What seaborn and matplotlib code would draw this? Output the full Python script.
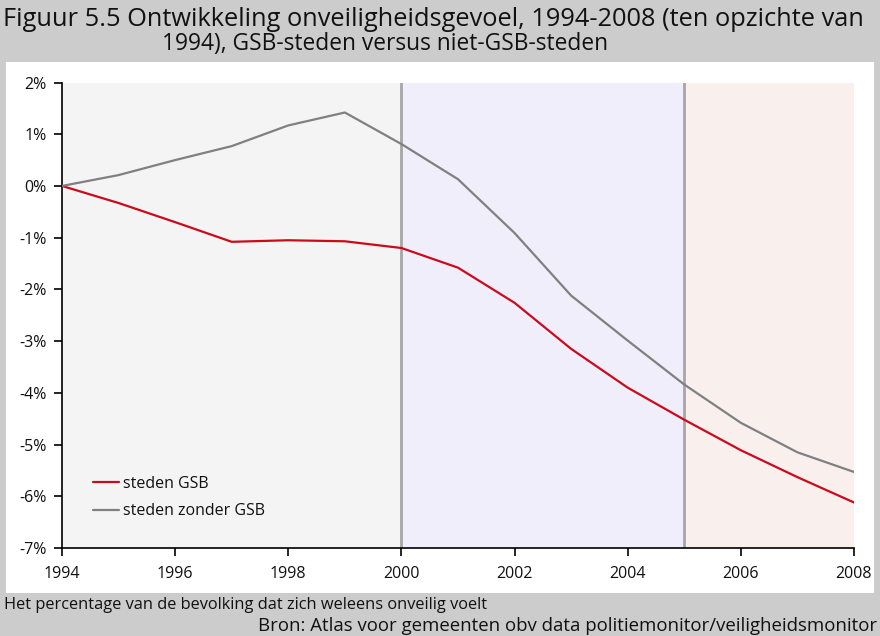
import matplotlib
matplotlib.use("Agg")
import matplotlib.pyplot as plt
import seaborn as sns
import pandas as pd
from matplotlib.patches import Rectangle
from matplotlib.ticker import FuncFormatter, MultipleLocator

years = list(range(1994, 2009))
gsb = [0.0, -0.33, -0.70, -1.08, -1.05, -1.07, -1.20, -1.58, -2.26, -3.15, -3.90, -4.52, -5.11, -5.63, -6.12]
niet_gsb = [0.0, 0.21, 0.50, 0.77, 1.17, 1.42, 0.81, 0.13, -0.91, -2.12, -2.99, -3.84, -4.58, -5.15, -5.53]
series_names = ["steden GSB", "steden zonder GSB"]
period_bounds = [1994, 2000, 2005, 2008]
period_colors = ["#f4f4f4", "#efeefa", "#f9f0ee"]

df = pd.DataFrame({
    "jaar": years * 2,
    "waarde": gsb + niet_gsb,
    "reeks": [series_names[0]] * len(years) + [series_names[1]] * len(years),
})

sns.set_theme(style="white")
plt.rcParams["font.family"] = ["Open Sans", "DejaVu Sans"]

W, H = 880, 636
fig = plt.figure(figsize=(W / 100, H / 100), dpi=100, facecolor="#cccccc")
bg = Rectangle((6 / W, (H - 593) / H), (874 - 6) / W, (593 - 62) / H,
               transform=fig.transFigure, facecolor="white", edgecolor="none", zorder=-10)
fig.add_artist(bg)

ax = fig.add_axes([62 / W, (H - 548) / H, (854 - 62) / W, (548 - 82.5) / H])
ax.set_zorder(1)
ax.set_facecolor("none")

for i in range(3):
    ax.axvspan(period_bounds[i], period_bounds[i + 1], color=period_colors[i], lw=0, zorder=0)
for x in period_bounds[1:3]:
    ax.axvline(x, color="#a6a6a6", lw=2, zorder=1)

sns.lineplot(data=df, x="jaar", y="waarde", hue="reeks", ax=ax,
             palette={series_names[0]: "#cc0a1e", series_names[1]: "#808080"},
             linewidth=1.6, zorder=3)

ax.set_xlim(1994, 2008)
ax.set_ylim(-7, 2)
ax.xaxis.set_major_locator(MultipleLocator(2))
ax.yaxis.set_major_locator(MultipleLocator(1))
ax.yaxis.set_major_formatter(FuncFormatter(lambda v, p: f"{int(round(v))}%"))
ax.set_xlabel("")
ax.set_ylabel("")
for s in ["top", "right"]:
    ax.spines[s].set_visible(False)
for s in ["left", "bottom"]:
    ax.spines[s].set_color("black")
    ax.spines[s].set_linewidth(1.2)
ax.tick_params(axis="both", which="major", direction="out", length=6, width=1.2,
               color="black", labelsize=11.5, labelcolor="#111111", left=True, bottom=True)
ax.tick_params(axis="x", pad=7)
ax.tick_params(axis="y", pad=5)

leg = ax.legend(loc="upper left", bbox_to_anchor=(31 / 792, 1 - (476 - 82.5) / 465.5), frameon=False,
                fontsize=11.5, handlelength=1.6, handletextpad=0.25, labelspacing=0.7,
                borderaxespad=0, borderpad=0)
for t in leg.get_texts():
    t.set_color("#111111")

fig.text(3 / W, 1 - 19 / H, "Figuur 5.5 Ontwikkeling onveiligheidsgevoel, 1994-2008 (ten opzichte van",
         fontsize=18.3, va="center", ha="left", color="#111111")
fig.text(162 / W, 1 - 44 / H, "1994), GSB-steden versus niet-GSB-steden",
         fontsize=16.4, va="center", ha="left", color="#111111")
fig.text(4 / W, 1 - 605 / H, "Het percentage van de bevolking dat zich weleens onveilig voelt",
         fontsize=11.8, va="center", ha="left", color="#111111")
fig.text(877 / W, 1 - 626 / H, "Bron: Atlas voor gemeenten obv data politiemonitor/veiligheidsmonitor",
         fontsize=13.4, va="center", ha="right", color="#111111")

fig.savefig("out.png", dpi=100, facecolor=fig.get_facecolor())
